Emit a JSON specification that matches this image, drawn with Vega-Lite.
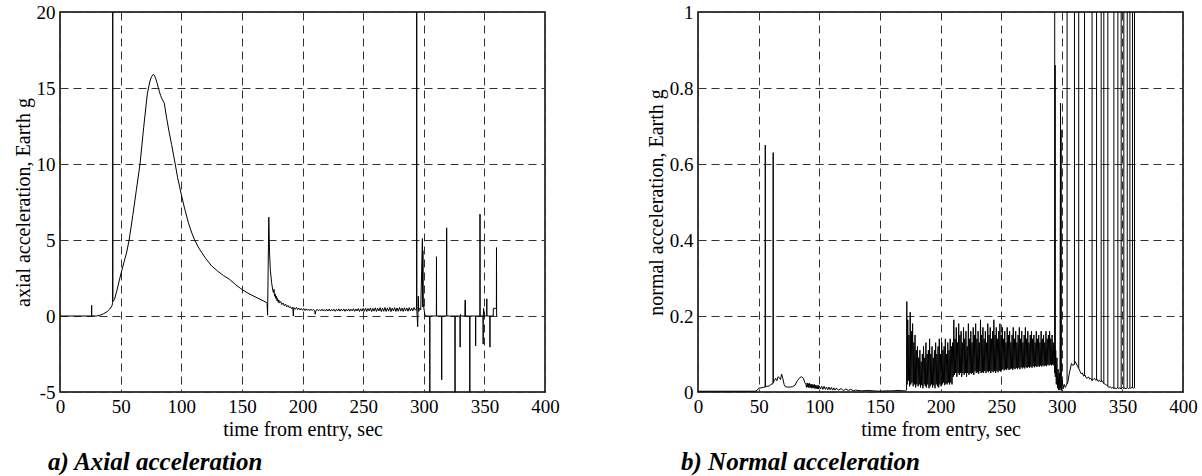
{
"$schema": "https://vega.github.io/schema/vega-lite/v6.json",
"background": "white",
"padding": {"left": 12, "top": 2, "right": 5, "bottom": 2},
"spacing": 85,
"config": {
  "font": "Liberation Serif",
  "view": {"stroke": "black", "strokeWidth": 1.5},
  "axis": {"domain": false, "ticks": false, "grid": true, "gridColor": "#333333", "gridDash": [8, 5], "gridWidth": 1, "labelFont": "Liberation Serif", "labelFontSize": 19, "labelColor": "black", "titleFont": "Liberation Serif", "titleFontSize": 20, "titleFontWeight": "normal", "titleColor": "black", "labelFlush": false, "labelOverlap": false, "labelPadding": 5, "titlePadding": 3},
  "title": {"font": "Liberation Serif", "fontSize": 25, "fontStyle": "italic", "fontWeight": "bold", "orient": "bottom", "anchor": "start", "frame": "group", "color": "black", "offset": 11}
},
"datasets": {
  "ax": [
    {"t":0,"g":0},{"t":26,"g":0},{"t":26.1,"g":0.7},{"t":26.2,"g":0},{"t":30,"g":0},{"t":33,"g":0.05},{"t":36,"g":0.15},{"t":39,"g":0.3},{"t":41,"g":0.45},{"t":43,"g":0.7},{"t":43.4,"g":0.9},{"t":43.5,"g":20},{"t":43.6,"g":0.95},{"t":45,"g":1.1},{"t":47,"g":1.7},{"t":50,"g":2.7},{"t":53,"g":3.6},{"t":55,"g":4.2},{"t":57,"g":5.0},{"t":60,"g":6.6},{"t":63,"g":8.3},{"t":66,"g":10.0},{"t":69,"g":12.4},{"t":72,"g":14.6},{"t":74,"g":15.4},{"t":75.5,"g":15.75},{"t":77,"g":15.9},{"t":78,"g":15.8},{"t":79,"g":15.6},{"t":80,"g":15.35},{"t":81,"g":15.05},{"t":82,"g":14.75},{"t":83,"g":14.5},{"t":84,"g":14.3},{"t":86,"g":14.0},{"t":88,"g":13.0},{"t":90,"g":12.1},{"t":92,"g":11.3},{"t":95,"g":10.0},{"t":97,"g":9.1},{"t":100,"g":8.0},{"t":103,"g":7.0},{"t":106,"g":6.1},{"t":109,"g":5.4},{"t":111,"g":5.0},{"t":115,"g":4.4},{"t":120,"g":3.8},{"t":125,"g":3.3},{"t":130,"g":2.95},{"t":135,"g":2.65},{"t":140,"g":2.4},{"t":145,"g":2.05},{"t":150,"g":1.75},{"t":155,"g":1.5},{"t":160,"g":1.3},{"t":165,"g":1.1},{"t":170,"g":0.9},{"t":170.8,"g":0.85},{"t":171.2,"g":0.05},{"t":172.2,"g":6.5},{"t":172.8,"g":4.2},{"t":173.5,"g":3.0},{"t":174.5,"g":2.2},{"t":175.5,"g":1.7},{"t":176,"g":1.55},{"t":176.5,"g":1.75},{"t":177,"g":1.3},{"t":177.5,"g":1.45},{"t":178,"g":1.15},{"t":178.5,"g":1.3},{"t":179,"g":1.0},{"t":179.5,"g":1.15},{"t":180,"g":0.9},{"t":180.5,"g":1.05},{"t":181,"g":0.85},{"t":182,"g":0.95},{"t":183,"g":0.75},{"t":184,"g":0.85},{"t":185,"g":0.68},{"t":186,"g":0.78},{"t":187,"g":0.6},{"t":188,"g":0.7},{"t":189,"g":0.55},
    {"t":190,"g":0.62},{"t":191,"g":0.48},{"t":192,"g":0.58},{"t":192.4,"g":0.0},{"t":192.8,"g":0.5},{"t":193,"g":0.55},{"t":194,"g":0.44},{"t":195,"g":0.56},{"t":196,"g":0.42},{"t":197,"g":0.52},{"t":198,"g":0.40},{"t":199,"g":0.50},{"t":200,"g":0.38},{"t":201,"g":0.49},{"t":202,"g":0.36},{"t":203,"g":0.47},{"t":204,"g":0.37},{"t":205,"g":0.46},{"t":206,"g":0.35},{"t":207,"g":0.45},{"t":208,"g":0.36},{"t":209,"g":0.44},{"t":210,"g":0.34},{"t":210.5,"g":0.12},{"t":211,"g":0.33},{"t":212,"g":0.44},{"t":213,"g":0.35},{"t":214,"g":0.42},{"t":215,"g":0.33},{"t":216,"g":0.45},{"t":217,"g":0.34},{"t":218,"g":0.43},{"t":219,"g":0.32},{"t":220,"g":0.44},{"t":221,"g":0.33},{"t":222,"g":0.46},{"t":223,"g":0.32},{"t":224,"g":0.43},{"t":225,"g":0.34},{"t":226,"g":0.45},{"t":227,"g":0.31},{"t":228,"g":0.44},{"t":229,"g":0.33},{"t":230,"g":0.47},{"t":231,"g":0.32},{"t":232,"g":0.45},{"t":233,"g":0.34},{"t":234,"g":0.46},{"t":235,"g":0.31},{"t":236,"g":0.44},{"t":237,"g":0.33},{"t":238,"g":0.47},{"t":239,"g":0.32},{"t":240,"g":0.45},{"t":241,"g":0.34},{"t":242,"g":0.48},{"t":243,"g":0.31},{"t":244,"g":0.46},{"t":245,"g":0.33},{"t":246,"g":0.49},{"t":247,"g":0.30},{"t":248,"g":0.47},{"t":249,"g":0.32},{"t":250,"g":0.50},{"t":251,"g":0.31},{"t":252,"g":0.52},{"t":253,"g":0.30},{"t":254,"g":0.49},{"t":255,"g":0.33},{"t":256,"g":0.53},{"t":257,"g":0.29},{"t":258,"g":0.50},{"t":259,"g":0.32},{"t":260,"g":0.54},{"t":261,"g":0.30},{"t":262,"g":0.51},{"t":263,"g":0.33},{"t":264,"g":0.55},{"t":265,"g":0.29},{"t":266,"g":0.52},{"t":267,"g":0.31},{"t":268,"g":0.56},{"t":269,"g":0.30},{"t":270,"g":0.53},{"t":271,"g":0.32},{"t":272,"g":0.57},{"t":273,"g":0.29},{"t":274,"g":0.52},{"t":275,"g":0.33},{"t":276,"g":0.55},{"t":277,"g":0.30},{"t":278,"g":0.53},{"t":279,"g":0.31},{"t":280,"g":0.56},{"t":281,"g":0.32},{"t":282,"g":0.52},{"t":283,"g":0.30},{"t":284,"g":0.54},{"t":285,"g":0.33},{"t":286,"g":0.53},{"t":287,"g":0.31},{"t":288,"g":0.55},{"t":289,"g":0.34},{"t":290,"g":0.52},{"t":291,"g":0.33},{"t":292,"g":0.56},{"t":293,"g":0.40},{"t":294.1,"g":0.45},{"t":294.2,"g":20},{"t":294.3,"g":0.4},{"t":295,"g":-0.7},{"t":295.3,"g":0.6},{"t":295.5,"g":1.3},{"t":295.8,"g":0.3},{"t":296.5,"g":0.5},{"t":297.5,"g":0.4},{"t":298.9,"g":5.1},{"t":299.1,"g":0.6},{"t":299.3,"g":4.3},{"t":299.6,"g":0.8},{"t":300.5,"g":0.3},{"t":301.2,"g":0},
    {"t":304.9,"g":0},{"t":305,"g":-5},{"t":305.1,"g":0},{"t":310.4,"g":0},{"t":310.5,"g":3.9},{"t":310.6,"g":0},{"t":314.7,"g":0},{"t":314.8,"g":-4.2},{"t":314.9,"g":0},{"t":318.8,"g":0},{"t":318.9,"g":5.8},{"t":319,"g":0},{"t":325.7,"g":0},{"t":325.8,"g":-5},{"t":325.9,"g":0},{"t":329.9,"g":0},{"t":330,"g":-2.05},{"t":330.1,"g":0},{"t":330.3,"g":0.1},{"t":330.5,"g":0},{"t":333.9,"g":0},{"t":334,"g":1.04},{"t":334.4,"g":1.04},{"t":334.5,"g":0},{"t":337.9,"g":0},{"t":338,"g":-5},{"t":338.1,"g":0},{"t":342.7,"g":0},{"t":342.8,"g":-1.96},{"t":342.9,"g":0},{"t":346.3,"g":0},{"t":346.4,"g":6.7},{"t":346.5,"g":0},{"t":348.9,"g":0},{"t":349,"g":-1.85},{"t":349.1,"g":0},{"t":349.4,"g":0.5},{"t":349.6,"g":0},{"t":351.9,"g":0},{"t":352,"g":1.13},{"t":352.1,"g":0},{"t":354.5,"g":0},{"t":354.6,"g":-2.05},{"t":354.7,"g":0},{"t":357.3,"g":0},{"t":357.4,"g":0.5},{"t":359,"g":0.5},{"t":359.9,"g":0.5},{"t":360,"g":4.5},{"t":360.1,"g":0}
  ],
  "nm": [
    {"t":0,"g":0.002},{"t":47,"g":0.002},{"t":49,"g":0.005},{"t":50,"g":0.01},{"t":52,"g":0.011},{"t":54,"g":0.012},{"t":55.4,"g":0.013},{"t":55.5,"g":0.65},{"t":55.6,"g":0.014},{"t":57,"g":0.015},{"t":59,"g":0.016},{"t":60,"g":0.02},{"t":61.9,"g":0.022},{"t":62,"g":0.63},{"t":62.1,"g":0.025},{"t":63,"g":0.03},{"t":64,"g":0.036},{"t":65,"g":0.03},{"t":66,"g":0.04},{"t":67,"g":0.038},{"t":68,"g":0.033},{"t":69,"g":0.047},{"t":70,"g":0.035},{"t":71,"g":0.02},{"t":72,"g":0.014},{"t":74,"g":0.013},{"t":76,"g":0.013},{"t":78,"g":0.014},{"t":80,"g":0.018},{"t":82,"g":0.03},{"t":84,"g":0.038},{"t":85.5,"g":0.04},{"t":87,"g":0.036},{"t":88,"g":0.025},{"t":89,"g":0.02},
    {"t":89.5,"g":0.012},{"t":90,"g":0.024},{"t":90.5,"g":0.013},{"t":91,"g":0.022},{"t":91.5,"g":0.011},{"t":92,"g":0.023},{"t":92.5,"g":0.012},{"t":93,"g":0.02},{"t":93.5,"g":0.01},{"t":94,"g":0.021},{"t":94.5,"g":0.011},{"t":95,"g":0.019},{"t":95.5,"g":0.01},{"t":96,"g":0.02},{"t":96.5,"g":0.009},{"t":97,"g":0.018},{"t":97.5,"g":0.009},{"t":98,"g":0.017},{"t":98.5,"g":0.008},{"t":99,"g":0.018},{"t":99.5,"g":0.008},{"t":100,"g":0.016},{"t":101,"g":0.008},{"t":102,"g":0.015},{"t":103,"g":0.007},{"t":104,"g":0.015},{"t":105,"g":0.007},{"t":106,"g":0.013},{"t":107,"g":0.006},{"t":108,"g":0.013},{"t":109,"g":0.006},{"t":110,"g":0.012},{"t":111,"g":0.005},{"t":112,"g":0.011},{"t":113,"g":0.005},{"t":114,"g":0.01},{"t":116,"g":0.005},{"t":118,"g":0.009},{"t":120,"g":0.004},{"t":122,"g":0.008},{"t":124,"g":0.004},{"t":126,"g":0.007},{"t":128,"g":0.003},{"t":130,"g":0.005},{"t":135,"g":0.003},{"t":140,"g":0.004},{"t":145,"g":0.003},{"t":150,"g":0.002},{"t":155,"g":0.003},{"t":160,"g":0.003},{"t":165,"g":0.004},{"t":171,"g":0.003},{"t":172,"g":0.005},{"t":172.2,"g":0.238},
    {"t":172.5,"g":0.02},{"t":173,"g":0.19},{"t":173.5,"g":0.03},{"t":174,"g":0.15},{"t":174.5,"g":0.015},{"t":175,"g":0.21},{"t":175.5,"g":0.02},{"t":176,"g":0.16},{"t":176.5,"g":0.025},{"t":177,"g":0.18},{"t":177.5,"g":0.015},{"t":178,"g":0.13},{"t":178.5,"g":0.02},{"t":179,"g":0.15},{"t":179.5,"g":0.012},{"t":180,"g":0.11},
    {"t":180.5,"g":0.02},{"t":181,"g":0.12},{"t":181.5,"g":0.015},{"t":182,"g":0.09},{"t":182.5,"g":0.02},{"t":183,"g":0.11},{"t":183.5,"g":0.012},{"t":184,"g":0.08},{"t":184.5,"g":0.018},{"t":185,"g":0.1},{"t":185.5,"g":0.01},{"t":186,"g":0.12},{"t":186.5,"g":0.02},{"t":187,"g":0.09},{"t":187.5,"g":0.015},{"t":188,"g":0.13},{"t":188.5,"g":0.012},{"t":189,"g":0.1},{"t":189.5,"g":0.02},{"t":190,"g":0.11},{"t":190.5,"g":0.01},{"t":191,"g":0.14},{"t":191.5,"g":0.015},{"t":192,"g":0.1},{"t":192.5,"g":0.02},{"t":193,"g":0.12},{"t":193.5,"g":0.012},{"t":194,"g":0.09},{"t":194.5,"g":0.018},{"t":195,"g":0.11},{"t":195.5,"g":0.01},{"t":196,"g":0.13},{"t":196.5,"g":0.02},{"t":197,"g":0.1},{"t":197.5,"g":0.015},{"t":198,"g":0.12},{"t":198.5,"g":0.012},{"t":199,"g":0.14},{"t":199.5,"g":0.02},{"t":200,"g":0.1},{"t":200.5,"g":0.015},{"t":201,"g":0.13},{"t":201.5,"g":0.02},{"t":202,"g":0.11},{"t":202.5,"g":0.025},{"t":203,"g":0.12},{"t":203.5,"g":0.018},{"t":204,"g":0.14},{"t":204.5,"g":0.022},{"t":205,"g":0.1},{"t":205.5,"g":0.02},{"t":206,"g":0.13},{"t":206.5,"g":0.025},{"t":207,"g":0.11},{"t":207.5,"g":0.02},{"t":208,"g":0.14},{"t":208.5,"g":0.025},{"t":209,"g":0.12},{"t":209.5,"g":0.02},{"t":210,"g":0.13},
    {"t":210.5,"g":0.04},{"t":211,"g":0.19},{"t":211.5,"g":0.045},{"t":212,"g":0.14},{"t":212.5,"g":0.05},{"t":213,"g":0.17},{"t":213.5,"g":0.04},{"t":214,"g":0.13},{"t":214.5,"g":0.05},{"t":215,"g":0.18},{"t":215.5,"g":0.045},{"t":216,"g":0.15},{"t":216.5,"g":0.05},{"t":217,"g":0.16},{"t":217.5,"g":0.04},{"t":218,"g":0.13},{"t":218.5,"g":0.05},{"t":219,"g":0.17},{"t":219.5,"g":0.045},{"t":220,"g":0.14},{"t":220.5,"g":0.05},{"t":221,"g":0.16},{"t":221.5,"g":0.04},{"t":222,"g":0.12},{"t":222.5,"g":0.05},{"t":223,"g":0.18},{"t":223.5,"g":0.045},{"t":224,"g":0.14},{"t":224.5,"g":0.05},{"t":225,"g":0.16},{"t":225.5,"g":0.048},{"t":226,"g":0.13},{"t":226.5,"g":0.05},{"t":227,"g":0.17},{"t":227.5,"g":0.045},{"t":228,"g":0.15},{"t":228.5,"g":0.055},{"t":229,"g":0.18},{"t":229.5,"g":0.05},{"t":230,"g":0.14},{"t":230.5,"g":0.052},{"t":231,"g":0.16},{"t":231.5,"g":0.048},{"t":232,"g":0.13},{"t":232.5,"g":0.055},{"t":233,"g":0.19},{"t":233.5,"g":0.05},{"t":234,"g":0.15},{"t":234.5,"g":0.052},{"t":235,"g":0.17},{"t":235.5,"g":0.05},{"t":236,"g":0.14},{"t":236.5,"g":0.055},{"t":237,"g":0.16},{"t":237.5,"g":0.05},{"t":238,"g":0.13},{"t":238.5,"g":0.055},{"t":239,"g":0.18},{"t":239.5,"g":0.052},{"t":240,"g":0.15},{"t":240.5,"g":0.055},{"t":241,"g":0.17},{"t":241.5,"g":0.05},{"t":242,"g":0.14},{"t":242.5,"g":0.055},{"t":243,"g":0.16},{"t":243.5,"g":0.052},{"t":244,"g":0.19},{"t":244.5,"g":0.055},{"t":245,"g":0.15},{"t":245.5,"g":0.05},{"t":246,"g":0.17},{"t":246.5,"g":0.056},{"t":247,"g":0.14},{"t":247.5,"g":0.052},{"t":248,"g":0.16},{"t":248.5,"g":0.056},{"t":249,"g":0.18},{"t":249.5,"g":0.054},{"t":250,"g":0.15},
    {"t":250.5,"g":0.058},{"t":251,"g":0.17},{"t":251.5,"g":0.06},{"t":252,"g":0.14},{"t":252.5,"g":0.057},{"t":253,"g":0.16},{"t":253.5,"g":0.06},{"t":254,"g":0.13},{"t":254.5,"g":0.058},{"t":255,"g":0.17},{"t":255.5,"g":0.062},{"t":256,"g":0.15},{"t":256.5,"g":0.058},{"t":257,"g":0.16},{"t":257.5,"g":0.06},{"t":258,"g":0.13},{"t":258.5,"g":0.062},{"t":259,"g":0.15},{"t":259.5,"g":0.058},{"t":260,"g":0.17},{"t":260.5,"g":0.062},{"t":261,"g":0.14},{"t":261.5,"g":0.06},{"t":262,"g":0.16},{"t":262.5,"g":0.063},{"t":263,"g":0.13},{"t":263.5,"g":0.06},{"t":264,"g":0.15},{"t":264.5,"g":0.064},{"t":265,"g":0.17},{"t":265.5,"g":0.06},{"t":266,"g":0.14},{"t":266.5,"g":0.065},{"t":267,"g":0.16},{"t":267.5,"g":0.062},{"t":268,"g":0.13},{"t":268.5,"g":0.065},{"t":269,"g":0.15},{"t":269.5,"g":0.062},{"t":270,"g":0.17},{"t":270.5,"g":0.066},{"t":271,"g":0.14},{"t":271.5,"g":0.063},{"t":272,"g":0.16},{"t":272.5,"g":0.066},{"t":273,"g":0.13},{"t":273.5,"g":0.064},{"t":274,"g":0.15},{"t":274.5,"g":0.067},{"t":275,"g":0.16},{"t":275.5,"g":0.064},{"t":276,"g":0.14},{"t":276.5,"g":0.068},{"t":277,"g":0.15},{"t":277.5,"g":0.065},{"t":278,"g":0.13},{"t":278.5,"g":0.068},{"t":279,"g":0.16},{"t":279.5,"g":0.066},{"t":280,"g":0.14},{"t":280.5,"g":0.069},{"t":281,"g":0.15},{"t":281.5,"g":0.066},{"t":282,"g":0.13},{"t":282.5,"g":0.07},{"t":283,"g":0.16},{"t":283.5,"g":0.067},{"t":284,"g":0.14},{"t":284.5,"g":0.07},{"t":285,"g":0.15},{"t":285.5,"g":0.068},{"t":286,"g":0.13},{"t":286.5,"g":0.07},{"t":287,"g":0.16},{"t":287.5,"g":0.068},{"t":288,"g":0.14},{"t":288.5,"g":0.072},{"t":289,"g":0.15},{"t":289.5,"g":0.07},{"t":290,"g":0.16},{"t":290.5,"g":0.072},{"t":291,"g":0.14},{"t":291.5,"g":0.07},{"t":292,"g":0.15},{"t":292.5,"g":0.072},{"t":293,"g":0.13},{"t":293.5,"g":0.07},{"t":294,"g":0.12},
    {"t":294.3,"g":0.05},{"t":294.5,"g":0.86},{"t":294.7,"g":0.04},{"t":295,"g":0.11},{"t":295.5,"g":0.02},{"t":296,"g":0.09},{"t":296.5,"g":0.01},{"t":297,"g":0.06},{"t":297.5,"g":0.005},{"t":298,"g":0.05},{"t":298.5,"g":0.005},{"t":299,"g":0.76},{"t":299.2,"g":0.01},{"t":299.4,"g":0.69},{"t":299.7,"g":0.004},{"t":300.5,"g":0.03},{"t":301,"g":0.008},{"t":302,"g":0.02},{"t":303,"g":0.012},{"t":304,"g":0.02},{"t":305,"g":0.025},{"t":306,"g":0.045},{"t":307,"g":0.06},{"t":308,"g":0.075},{"t":309,"g":0.07},{"t":310,"g":0.072},{"t":311,"g":0.08},{"t":312,"g":0.075},{"t":313,"g":0.068},{"t":314,"g":0.062},{"t":315,"g":0.055},{"t":316,"g":0.048},{"t":317,"g":0.05},{"t":318,"g":0.042},{"t":319,"g":0.045},{"t":320,"g":0.038},{"t":321,"g":0.036},{"t":322,"g":0.04},{"t":323,"g":0.034},{"t":324,"g":0.036},{"t":325,"g":0.03},{"t":326,"g":0.033},{"t":327,"g":0.036},{"t":328,"g":0.031},{"t":329,"g":0.034},{"t":330,"g":0.028},{"t":331,"g":0.031},{"t":332,"g":0.027},{"t":333,"g":0.03},{"t":334,"g":0.025},{"t":335,"g":0.022},{"t":336,"g":0.02},{"t":337,"g":0.018},{"t":338,"g":0.015},{"t":339,"g":0.012},{"t":340,"g":0.014},{"t":341,"g":0.01},{"t":342,"g":0.012},{"t":343,"g":0.009},{"t":344,"g":0.011},{"t":345,"g":0.008},{"t":346,"g":0.012},{"t":347,"g":0.009},{"t":348,"g":0.011},{"t":349,"g":0.008},{"t":350,"g":0.012},{"t":351,"g":0.009},{"t":352,"g":0.011},{"t":353,"g":0.008},{"t":354,"g":0.012},{"t":355,"g":0.009},{"t":356,"g":0.011},{"t":357,"g":0.01},{"t":358,"g":0.012},{"t":359,"g":0.01},{"t":360,"g":0.012},{"t":360.5,"g":0.01}
  ],
  "nsp": [
    {"t":294.2,"lo":0.1,"hi":1},{"t":304.4,"lo":0.02,"hi":1},{"t":310.5,"lo":0.072,"hi":1},{"t":314,"lo":0.062,"hi":1},{"t":318.8,"lo":0.042,"hi":1},{"t":325,"lo":0.03,"hi":1},{"t":328.7,"lo":0.031,"hi":1},{"t":332.5,"lo":0.027,"hi":1},{"t":334.7,"lo":0.022,"hi":1},{"t":338,"lo":0.015,"hi":1},{"t":343,"lo":0.009,"hi":1},{"t":346.3,"lo":0.011,"hi":1},{"t":349,"lo":0.008,"hi":1},{"t":351.2,"lo":0.009,"hi":1},{"t":354,"lo":0.012,"hi":1},{"t":356.2,"lo":0.011,"hi":1},{"t":358.4,"lo":0.012,"hi":1},{"t":360,"lo":0.012,"hi":1}
  ]
},
"hconcat": [
  {
    "width": 485,
    "height": 380,
    "title": {"text": "a) Axial acceleration", "dx": -12},
    "data": {"name": "ax"},
    "mark": {"type": "line", "color": "black", "strokeWidth": 1, "clip": true},
    "encoding": {
      "x": {"field": "t", "type": "quantitative", "scale": {"domain": [0, 400], "nice": false, "zero": false}, "axis": {"values": [0, 50, 100, 150, 200, 250, 300, 350, 400], "title": "time from entry, sec"}},
      "y": {"field": "g", "type": "quantitative", "scale": {"domain": [-5, 20], "nice": false, "zero": false}, "axis": {"values": [-5, 0, 5, 10, 15, 20], "title": "axial acceleration, Earth g", "labelExpr": "datum.value < 0 ? '-' + abs(datum.value) : '' + datum.value"}}
    }
  },
  {
    "width": 485,
    "height": 380,
    "title": {"text": "b) Normal acceleration", "dx": -17},
    "layer": [
      {
        "data": {"name": "nm"},
        "mark": {"type": "line", "color": "black", "strokeWidth": 1, "clip": true},
        "encoding": {
          "x": {"field": "t", "type": "quantitative", "scale": {"domain": [0, 400], "nice": false, "zero": false}, "axis": {"values": [0, 50, 100, 150, 200, 250, 300, 350, 400], "title": "time from entry, sec"}},
          "y": {"field": "g", "type": "quantitative", "scale": {"domain": [0, 1], "nice": false, "zero": false}, "axis": {"values": [0, 0.2, 0.4, 0.6, 0.8, 1], "format": "~g", "title": "normal acceleration, Earth g"}}
        }
      },
      {
        "data": {"name": "nsp"},
        "mark": {"type": "rule", "color": "black", "strokeWidth": 1, "clip": true},
        "encoding": {
          "x": {"field": "t", "type": "quantitative"},
          "y": {"field": "lo", "type": "quantitative"},
          "y2": {"field": "hi"}
        }
      }
    ]
  }
]
}
